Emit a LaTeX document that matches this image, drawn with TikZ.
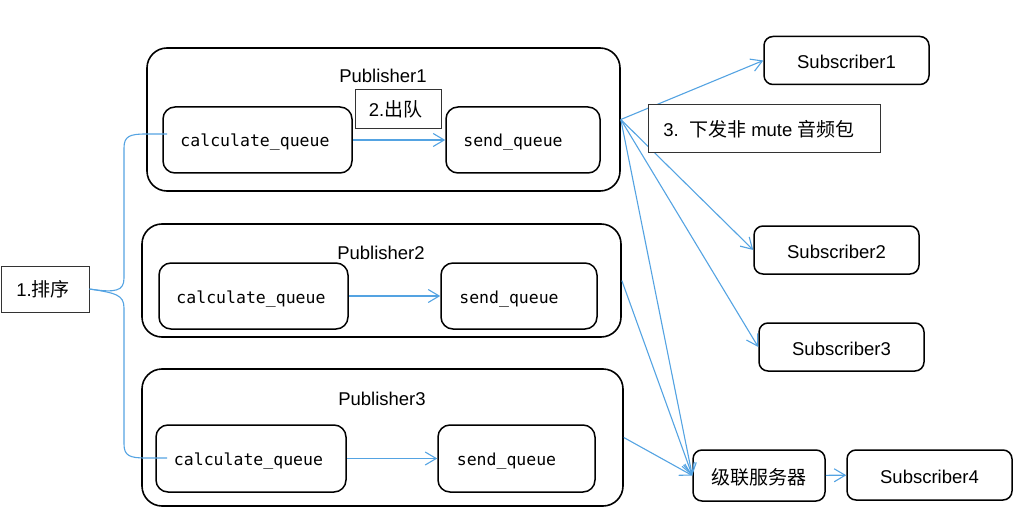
\documentclass[tikz,border=0pt]{standalone}
\usepackage{fontspec}
\setmainfont{Liberation Sans}
\setmonofont{DejaVu Sans Mono}
\newfontfamily\cjk{Noto Sans CJK SC}
\usepackage{tikz}
\usetikzlibrary{arrows.meta}
\definecolor{flowblue}{RGB}{84,163,226}

\begin{document}
\begin{tikzpicture}[x=1pt,y=-1pt,
    pubbox/.style={draw,line width=1.6pt,rounded corners=20pt,inner sep=0pt},
    queuebox/.style={draw,line width=1.5pt,rounded corners=12pt,inner sep=0pt,
      minimum height=66pt,text height=14pt,text depth=0pt,font=\fontsize{16.5}{18}\ttfamily},
    subbox/.style={draw,line width=1.5pt,rounded corners=9pt,inner sep=0pt,
      minimum width=165pt,minimum height=48pt,text height=17pt,text depth=0pt,
      font=\fontsize{18.5}{20}\selectfont},
    notebox/.style={draw=black!80,fill=white,line width=1pt,inner sep=0pt,
      font=\fontsize{18.5}{20}\selectfont},
    publabel/.style={inner sep=0pt,font=\fontsize{18.5}{20}\selectfont},
    flow/.style={draw=flowblue,line width=1.1pt,-{Straight Barb[length=11pt,width=13pt]}},
    brace/.style={draw=flowblue,line width=1.1pt}]
      \useasboundingbox (0,0) rectangle (1024,513);

      % Publisher boxes
      \node[pubbox,minimum width=473pt,minimum height=143pt] (pubA) at (383.5,119.5) {};
      \node[pubbox,minimum width=479pt,minimum height=113pt] (pubB) at (381.5,280.5) {};
      \node[pubbox,minimum width=481pt,minimum height=137pt] (pubC) at (382.5,437.5) {};

      \node[publabel] at (383,76) {Publisher1};
      \node[publabel] at (381,253) {Publisher2};
      \node[publabel] at (382,399) {Publisher3};

      % queues inside each publisher
      \node[queuebox,minimum width=189pt] (calcA) at (257.5,140) {calculate\_queue\hspace*{5pt}};
      \node[queuebox,minimum width=154pt] (sendA) at (523,140) {send\_queue\hspace*{20pt}};
      \node[queuebox,minimum width=189pt] (calcB) at (253.5,296) {calculate\_queue\hspace*{5pt}};
      \node[queuebox,minimum width=156pt] (sendB) at (519,296) {send\_queue\hspace*{20pt}};
      \node[queuebox,minimum width=190pt,minimum height=67pt] (calcC) at (251,458.5) {calculate\_queue\hspace*{5pt}};
      \node[queuebox,minimum width=157pt,minimum height=67pt] (sendC) at (516.5,458.5) {send\_queue\hspace*{20pt}};

      \draw[flow] (calcA) -- (sendA);
      \draw[flow] (calcB) -- (sendB);
      \draw[flow] (calcC) -- (sendC);

      % Subscribers and the cascade server
      \node[subbox] (subA) at (846.5,60.5) {Subscriber1};
      \node[subbox] (subB) at (836.5,250) {Subscriber2};
      \node[subbox] (subC) at (841.5,347) {Subscriber3};
      \node[subbox,minimum width=132pt,minimum height=51pt,font=\fontsize{19}{20}\cjk] (casc) at (759,475.5) {级联服务器};
      \node[subbox,minimum height=50pt] (subD) at (929.5,475) {Subscriber4};

      \draw[flow] (pubA.east) -- (subA.west);
      \draw[flow] (pubA.east) -- (subB.west);
      \draw[flow] (pubA.east) -- (subC.west);
      \draw[flow] (pubA.east) -- (casc.west);
      \draw[flow] (pubB.east) -- (casc.west);
      \draw[flow] (pubC.east) -- (casc.west);
      \draw[flow] (casc) -- (subD);

      % step notes
      \node[notebox,minimum width=88pt,minimum height=46pt] (sort) at (45,289) {1.{\cjk\fontsize{19}{20}\selectfont 排序}\hspace*{4pt}};
      \node[notebox,minimum width=86pt,minimum height=39pt] (deq) at (398,109.5) {2.{\cjk\fontsize{19}{20}\selectfont 出队}\hspace*{5pt}};
      \node[notebox,minimum width=232pt,minimum height=48pt] (fwd) at (764,129)
        {3.~~{\cjk\fontsize{19}{20}\selectfont 下发非} mute {\cjk\fontsize{19}{20}\selectfont 音频包}\hspace*{10pt}};

      % the sorting brace
      \coordinate (topEnd) at (167,134);
      \coordinate (botEnd) at (167,458);
      \draw[brace] (sort.east) .. controls (116,293) and (124,291) .. (124,278) -- (124,148)
        .. controls (124,136) and (130,134) .. (146,134) -- (topEnd);
      \draw[brace] (sort.east) .. controls (116,293) and (124,295) .. (124,308) -- (124,444)
        .. controls (124,456) and (130,458) .. (146,458) -- (botEnd);
\end{tikzpicture}
\end{document}
